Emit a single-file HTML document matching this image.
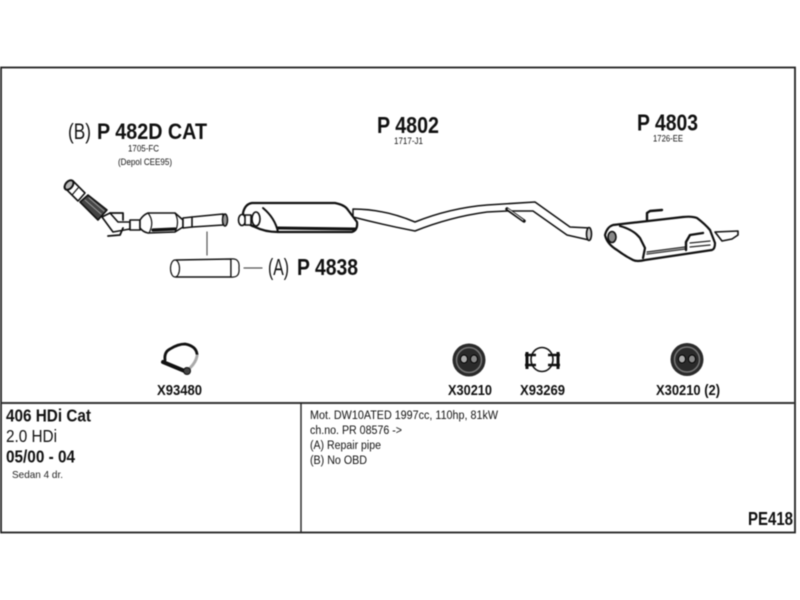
<!DOCTYPE html>
<html><head><meta charset="utf-8"><style>
html,body{margin:0;padding:0;background:#fff}
svg{display:block;filter:blur(.6px)}
text{font-family:"Liberation Sans",Arial,sans-serif;fill:#111}
.b{font-weight:bold}
</style></head><body>
<svg width="800" height="600" viewBox="0 0 800 600" xmlns="http://www.w3.org/2000/svg">
<rect width="800" height="600" fill="#fff"/>
<!-- frame -->
<rect x="1" y="67.5" width="794" height="465" fill="none" stroke="#222" stroke-width="1.8"/>
<line x1="0" y1="403" x2="796" y2="403" stroke="#333" stroke-width="2"/>
<line x1="301" y1="403" x2="301" y2="532" stroke="#222" stroke-width="1.4"/>

<!-- headings -->
<text x="68" y="139" font-size="22" textLength="23" lengthAdjust="spacingAndGlyphs">(B)</text>
<text class="b" x="97" y="139" font-size="22" textLength="110" lengthAdjust="spacingAndGlyphs">P 482D CAT</text>
<text x="128" y="151.500" font-size="9" textLength="31" lengthAdjust="spacingAndGlyphs">1705-FC</text>
<text x="118" y="165" font-size="9" textLength="54" lengthAdjust="spacingAndGlyphs">(Depol CEE95)</text>
<text class="b" x="377" y="133" font-size="23" textLength="62" lengthAdjust="spacingAndGlyphs">P 4802</text>
<text x="394" y="144" font-size="9" textLength="29" lengthAdjust="spacingAndGlyphs">1717-J1</text>
<text class="b" x="637" y="130.500" font-size="23" textLength="61" lengthAdjust="spacingAndGlyphs">P 4803</text>
<text x="653" y="141.500" font-size="9" textLength="30" lengthAdjust="spacingAndGlyphs">1726-EE</text>
<text x="268" y="275" font-size="23" textLength="21" lengthAdjust="spacingAndGlyphs">(A)</text>
<text class="b" x="297" y="275" font-size="23" textLength="61" lengthAdjust="spacingAndGlyphs">P 4838</text>

<g fill="#fff" stroke="#111" stroke-width="1.6" stroke-linejoin="round" stroke-linecap="round">
  <!-- front pipe -->
  <path d="M73 181 L85 193 L78 201 L66 189 Z"/>
  <path d="M78 188 L72 195" fill="none" stroke-width="1.200"/>
  <ellipse cx="69" cy="185" rx="3.500" ry="5.500" transform="rotate(40 69 185)" fill="#bbb" stroke-width="2"/>
  <path d="M80 202 L88 195 L107 210 L98 220 Z" fill="#444"/>
  <path d="M85 200 L101 214 M89 198 L104 211" stroke="#999" stroke-width="1"/>
  <path d="M102 217 L110 213 L118 222 L130 222 L130 229 L113 232 Z"/>
  <path d="M110 213 L123 213 L123 220 M108 236 L120 235 L123 228" fill="none" stroke-width="1.800"/>
  <path d="M130 220 L140 220 L140 230 L130 230 Z"/>
  <path d="M140 220 Q143 215 148 213 L175 213 L183 220 L183 227 L175 232 L148 233 Q143 232 140 228 Z"/>
  <path d="M148 213 Q155 222 149 233 M175 213 Q180 222 175 232" fill="none" stroke-width="1.200"/>
  <path d="M153 230 L175 229" stroke-width="3.200"/>
  <path d="M183 218 L192 217 L223 214 L223 225 L192 227 L183 228 Z"/>
  <path d="M192 217 L192 227" fill="none"/>
  <ellipse cx="225" cy="220" rx="2.500" ry="6" fill="#999" stroke-width="1.500"/>
  <line x1="207" y1="232" x2="207" y2="255" stroke="#555" stroke-width="1.200"/>
  <!-- repair pipe -->
  <path d="M176 260 L231 259 L231 277 L176 277 Z" stroke-width="1.500"/>
  <ellipse cx="175" cy="268.500" rx="4.500" ry="8.500" stroke-width="1.200"/>
  <path d="M231 259 Q240 258 239 268 Q240 278 231 277 Z" stroke-width="1.200"/>
  <line x1="244" y1="268" x2="262" y2="268" stroke="#555" stroke-width="1.200"/>
  <!-- mid pipe -->
  <path d="M353 209 Q384 209 415 222 Q450 208 487 205 L535 202 L570 227 L590 228 L589 240 L567 235 L533 211 L507 211 L487 212 Q450 217 415 231 Q384 225 353 217 Z" stroke-width="1.500"/>
  <path d="M507 209 L524 221" stroke-width="3.500" fill="none"/>
  <path d="M508 209 L523 220" stroke="#eee" stroke-width="1" fill="none"/>
  <ellipse cx="589" cy="234" rx="2.500" ry="6.500" fill="#ccc"/>
  <!-- mid muffler -->
  <path d="M243 213 Q245 204 252 203 L335 203 Q345 205 348 210 L357 222 Q358 230 352 232 L278 232 Q265 232 255 227 Q245 224 243 213 Z" stroke-width="2.200"/>
  <path d="M278 228 L355 229" stroke-width="3"/>
  <path d="M263 208 Q275 218 278 232" fill="none" stroke-width="2"/>
  <ellipse cx="242" cy="220" rx="3.500" ry="5.500"/>
  <rect x="245" y="215" width="6" height="10"/>
  <ellipse cx="256" cy="219" rx="4" ry="7"/>
  <!-- rear muffler -->
  <path d="M715 232 L738 231 L738 235 L732 239 L722 241 Z"/>
  <path d="M647 220 L647 213 L650 211 L662 210" fill="none" stroke-width="2.400"/>
  <path d="M605 235 Q607 227 613 225 L683 217 Q692 216 697 218 Q705 224 710 230 L715 243 Q715 249 712 250 L645 260 Q637 262 633 260 Q625 256 617 250 Q607 244 605 235 Z" stroke-width="2.200"/>
  <path d="M620 226 Q634 230 640 238 L645 248 L643 258" fill="none" stroke-width="2.200"/>
  <ellipse cx="612" cy="237" rx="4" ry="5.500" fill="#888"/>
  <path d="M647 252 L685 247 M690 243 L710 241 M690 247 L710 245" stroke="#222" stroke-width="1.200"/>
  <path d="M647 254 L685 249" stroke="#444" stroke-width="1.600"/>
  <path d="M686 250 L686 242 L690 235 L703 233" fill="none" stroke-width="2.400"/>
</g>

<!-- X93480 clamp -->
<g fill="none" stroke="#111" stroke-linecap="round">
  <path d="M165 360 Q164 352 170 349 Q178 344 185 344 Q196 346 197 354" stroke-width="2.800"/>
  <path d="M197 356 Q196 362 190 368" stroke="#aaa" stroke-width="3"/>
  <path d="M163 362 L187 372" stroke-width="4"/>
  <circle cx="187" cy="371" r="3.500" fill="#444"/>
</g>
<!-- rubber hangers -->
<g>
  <circle cx="469" cy="360" r="16.500" fill="#2a2a2a"/>
  <circle cx="469" cy="360" r="12.500" fill="none" stroke="#777" stroke-width="1.500"/>
  <ellipse cx="464" cy="359" rx="3.500" ry="4" fill="#aaa" stroke="#000"/>
  <ellipse cx="474" cy="359" rx="3.500" ry="4" fill="#888" stroke="#000"/>
  <circle cx="687" cy="359.500" r="16.500" fill="#2a2a2a"/>
  <circle cx="687" cy="359.500" r="12.500" fill="none" stroke="#777" stroke-width="1.500"/>
  <ellipse cx="682" cy="359" rx="3.500" ry="4" fill="#aaa" stroke="#000"/>
  <ellipse cx="692" cy="359" rx="3.500" ry="4" fill="#888" stroke="#000"/>
</g>
<!-- X93269 clamp -->
<g fill="none" stroke="#111" stroke-width="1.600">
  <ellipse cx="542" cy="359.500" rx="11" ry="12"/>
  <path d="M525 355 L536 355 M525 365 L536 365 M548 355 L560 355 M548 365 L560 365" stroke-width="2.500"/>
  <path d="M527 352 L527 369 M558 352 L558 369" stroke-width="3"/>
</g>

<!-- part labels -->
<text class="b" x="157" y="395" font-size="15" textLength="45" lengthAdjust="spacingAndGlyphs">X93480</text>
<text class="b" x="448" y="395" font-size="15" textLength="44" lengthAdjust="spacingAndGlyphs">X30210</text>
<text class="b" x="520" y="395" font-size="15" textLength="45" lengthAdjust="spacingAndGlyphs">X93269</text>
<text class="b" x="656" y="395" font-size="15" textLength="64" lengthAdjust="spacingAndGlyphs">X30210 (2)</text>

<!-- info -->
<text class="b" x="6" y="421.500" font-size="17.500" textLength="85" lengthAdjust="spacingAndGlyphs">406 HDi Cat</text>
<text x="6" y="442" font-size="17.500" textLength="51" lengthAdjust="spacingAndGlyphs">2.0 HDi</text>
<text class="b" x="6" y="462.500" font-size="17.500" textLength="69" lengthAdjust="spacingAndGlyphs">05/00 - 04</text>
<text x="12" y="478" font-size="10.500" textLength="51" lengthAdjust="spacingAndGlyphs" style="fill:#222">Sedan 4 dr.</text>
<g font-size="11.500" style="fill:#333">
<text x="310" y="419" textLength="188" lengthAdjust="spacingAndGlyphs">Mot. DW10ATED 1997cc, 110hp, 81kW</text>
<text x="310" y="434" textLength="92" lengthAdjust="spacingAndGlyphs">ch.no. PR 08576 -&gt;</text>
<text x="310" y="449" textLength="71" lengthAdjust="spacingAndGlyphs">(A) Repair pipe</text>
<text x="310" y="464" textLength="57" lengthAdjust="spacingAndGlyphs">(B) No OBD</text>
</g>
<text class="b" x="748" y="525" font-size="18" textLength="45" lengthAdjust="spacingAndGlyphs">PE418</text>
</svg>
</body></html>
